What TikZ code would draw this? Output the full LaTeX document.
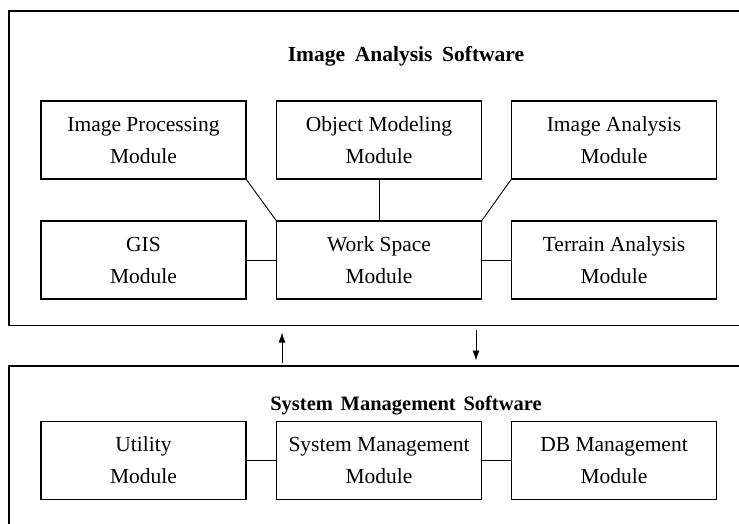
\documentclass[tikz,border=0pt]{standalone}
\usepackage{fontspec}
\setmainfont{Liberation Serif}
\usetikzlibrary{arrows.meta}
\begin{document}
\begin{tikzpicture}[x=1pt,y=-1pt,
  modbox/.style={draw, line width=1.1pt, minimum width=205pt, minimum height=78pt,
    inner sep=0pt, outer sep=0pt, align=center, font=\fontsize{21.5}{32}\selectfont},
  frame/.style={draw, line width=1.2pt, inner sep=0pt, outer sep=0pt},
  heading/.style={font=\bfseries\fontsize{21.5}{26}\selectfont, inner sep=0pt, anchor=base},
  link/.style={line width=0.9pt},
  flow/.style={line width=0.9pt, -{Latex[length=10pt,width=7pt]}}]
\useasboundingbox (0,0) rectangle (739,523);
\clip (0,0) rectangle (739,523);
% outer frames
\node[frame, minimum width=794pt, minimum height=314.7pt] (ias) at (406,168.35) {};
\node[frame, minimum width=794pt, minimum height=300pt] (sms) at (406,516) {};
% headings
\node[heading] (iast) at (406,61) {Image\hspace{0.45em}Analysis\hspace{0.45em}Software};
\node[heading, font=\bfseries\fontsize{20.5}{25}\selectfont] (smst) at (406,410)
  {System\hspace{0.38em}Management\hspace{0.38em}Software};
% image analysis modules
\node[modbox] (ip) at (143.5,140) {Image Processing\\Module};
\node[modbox] (om) at (379,140) {Object Modeling\\Module};
\node[modbox] (ia) at (614,140) {Image Analysis\\Module};
\node[modbox] (gis) at (143.5,260) {GIS\\Module};
\node[modbox] (ws) at (379,260) {Work Space\\Module};
\node[modbox] (ta) at (614,260) {Terrain Analysis\\Module};
% system management modules
\node[modbox] (ut) at (143.5,460.4) {Utility\\Module};
\node[modbox] (sm) at (379,460.4) {System Management\\Module};
\node[modbox] (db) at (614,460.4) {DB Management\\Module};
% connectors
\draw[link] (ip.south east) -- (ws.north west);
\draw[link] (om.south) -- (ws.north);
\draw[link] (ia.south west) -- (ws.north east);
\draw[link] (gis.east) -- (ws.west);
\draw[link] (ws.east) -- (ta.west);
\draw[link] (ut.east) -- (sm.west);
\draw[link] (sm.east) -- (db.west);
% arrows between the two software parts
\coordinate (upS) at (282,363);
\coordinate (upE) at (282,332.5);
\coordinate (dnS) at (476,330);
\coordinate (dnE) at (476,360.5);
\draw[flow] (upS) -- (upE);
\draw[flow] (dnS) -- (dnE);
\end{tikzpicture}
\end{document}
